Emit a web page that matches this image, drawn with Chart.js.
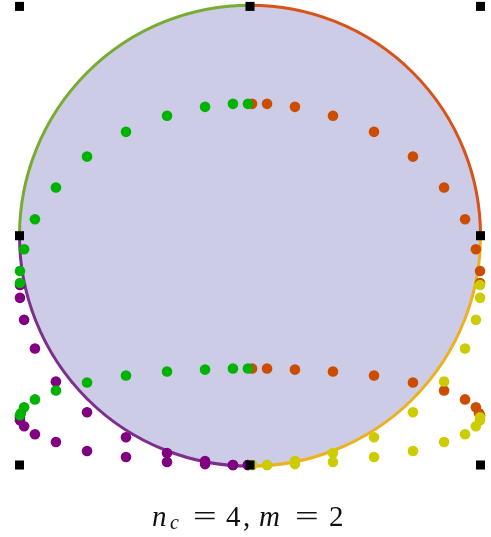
<!DOCTYPE html>
<html>
<head>
<meta charset="utf-8">
<script src="https://cdn.jsdelivr.net/npm/chart.js@4/dist/chart.umd.min.js"></script>
<style>
  html, body { margin: 0; padding: 0; background: #fff; }
  #wrap { position: relative; width: 491px; height: 537px; }
  #label span { position: absolute; top: 502px; font-family: "Liberation Serif", serif; font-size: 29px; line-height: 1; white-space: nowrap; color: #111; }
  #label .it { font-style: italic; }
  #label .sub { font-size: 20px; top: 512px; }
  #label .eq { transform: scaleX(1.45); transform-origin: left center; }
</style>
</head>
<body>
<div id="wrap">
  <canvas id="chart" width="491" height="537"></canvas>
  <div id="label">
    <span class="it" style="left:152px">n</span>
    <span class="it sub" style="left:170px">c</span>
    <span class="eq" style="left:193px">=</span>
    <span style="left:226px">4</span>
    <span style="left:243px">,</span>
    <span class="it" style="left:259px">m</span>
    <span class="eq" style="left:295px">=</span>
    <span style="left:329px">2</span>
  </div>
</div>
<script>
// values, in the [-1, 1] square
const greenX = [-0.009, -0.074, -0.195, -0.360, -0.538, -0.707, -0.842, -0.933, -0.980, -0.998, -0.998,
                -0.009, -0.074, -0.195, -0.360, -0.538, -0.707, -0.842, -0.933, -0.980, -0.994, -0.998];
const greenY = [0.575, 0.575, 0.562, 0.523, 0.453, 0.345, 0.210, 0.072, -0.059, -0.154, -0.206,
                -0.579, -0.579, -0.584, -0.592, -0.610, -0.640, -0.675, -0.714, -0.748, -0.774, -0.783];

const orangeX = [0.009, 0.074, 0.195, 0.360, 0.538, 0.707, 0.842, 0.933, 0.980, 0.998, 0.998,
                 0.009, 0.074, 0.195, 0.360, 0.538, 0.707, 0.842, 0.933, 0.980, 0.994, 0.998];
const orangeY = [0.575, 0.575, 0.562, 0.523, 0.453, 0.345, 0.210, 0.072, -0.059, -0.154, -0.206,
                 -0.579, -0.579, -0.584, -0.592, -0.610, -0.640, -0.675, -0.714, -0.748, -0.774, -0.783];

const purpleX = [-0.998, -0.998, -0.980, -0.933, -0.842, -0.707, -0.538, -0.360, -0.195, -0.074, -0.009,
                 -0.998, -0.998, -0.980, -0.933, -0.842, -0.707, -0.538, -0.360, -0.195, -0.074, -0.009];
const purpleY = [-0.215, -0.271, -0.367, -0.492, -0.636, -0.770, -0.879, -0.948, -0.983, -1.0, -1.0,
                 -0.792, -0.805, -0.831, -0.866, -0.900, -0.939, -0.965, -0.987, -0.996, -1.0, -1.0];

const yellowX = [0.998, 0.998, 0.980, 0.933, 0.842, 0.707, 0.538, 0.360, 0.195, 0.074, 0.009,
                 0.998, 0.998, 0.980, 0.933, 0.842, 0.707, 0.538, 0.360, 0.195, 0.074, 0.009];
const yellowY = [-0.215, -0.271, -0.367, -0.492, -0.636, -0.770, -0.879, -0.948, -0.983, -1.0, -1.0,
                 -0.792, -0.805, -0.831, -0.866, -0.900, -0.939, -0.965, -0.987, -0.996, -1.0, -1.0];

const cornerX = [-1, 0, 1, -1, 1, -1, 0, 1];
const cornerY = [1, 1, 1, 0, 0, -1, -1, -1];

function pts(xs, ys) {
  return xs.map((x, i) => ({ x: x, y: ys[i] }));
}

// unit disc with four coloured quarter arcs, drawn through the scales
const discPlugin = {
  id: "disc",
  beforeDatasetsDraw(chart) {
    const xs = chart.scales.x, ys = chart.scales.y;
    const cx = xs.getPixelForValue(0), cy = ys.getPixelForValue(0);
    const r = xs.getPixelForValue(1) - cx;
    const ctx = chart.ctx;
    ctx.save();
    ctx.fillStyle = "#CCCCE6";
    ctx.beginPath();
    ctx.arc(cx, cy, r, 0, Math.PI * 2);
    ctx.fill();
    const arcs = [
      ["#77AC30", Math.PI, Math.PI * 1.5],
      ["#D95319", Math.PI * 1.5, Math.PI * 2],
      ["#EDB120", 0, Math.PI * 0.5],
      ["#7E2F8E", Math.PI * 0.5, Math.PI],
    ];
    ctx.lineWidth = 3;
    arcs.forEach(([col, a0, a1]) => {
      ctx.strokeStyle = col;
      ctx.beginPath();
      ctx.arc(cx, cy, r, a0, a1);
      ctx.stroke();
    });
    ctx.restore();
  },
};

function dots(data, color, order) {
  return {
    data: data,
    backgroundColor: color,
    borderWidth: 0,
    pointRadius: 5.3,
    pointHoverRadius: 5.3,
    order: order,
    clip: false,
  };
}

new Chart(document.getElementById("chart"), {
  type: "scatter",
  data: {
    datasets: [
      {
        data: pts(cornerX, cornerY),
        backgroundColor: "#000",
        borderWidth: 0,
        pointStyle: "rect",
        pointRadius: 6.4,
        order: 0,
        clip: false,
      },
      dots(pts(greenX, greenY), "#00B300", 1),
      dots(pts(yellowX, yellowY), "#CCCC00", 2),
      dots(pts(purpleX, purpleY), "#800080", 3),
      dots(pts(orangeX, orangeY), "#CC4D00", 4),
    ],
  },
  options: {
    responsive: false,
    animation: false,
    devicePixelRatio: 1,
    layout: { padding: { left: 19.5, right: 10.5, top: 4, bottom: 72 } },
    scales: {
      x: { min: -1, max: 1, display: false },
      y: { min: -1, max: 1, display: false },
    },
    plugins: {
      legend: { display: false },
      tooltip: { enabled: false },
    },
  },
  plugins: [discPlugin],
});
</script>
</body>
</html>
